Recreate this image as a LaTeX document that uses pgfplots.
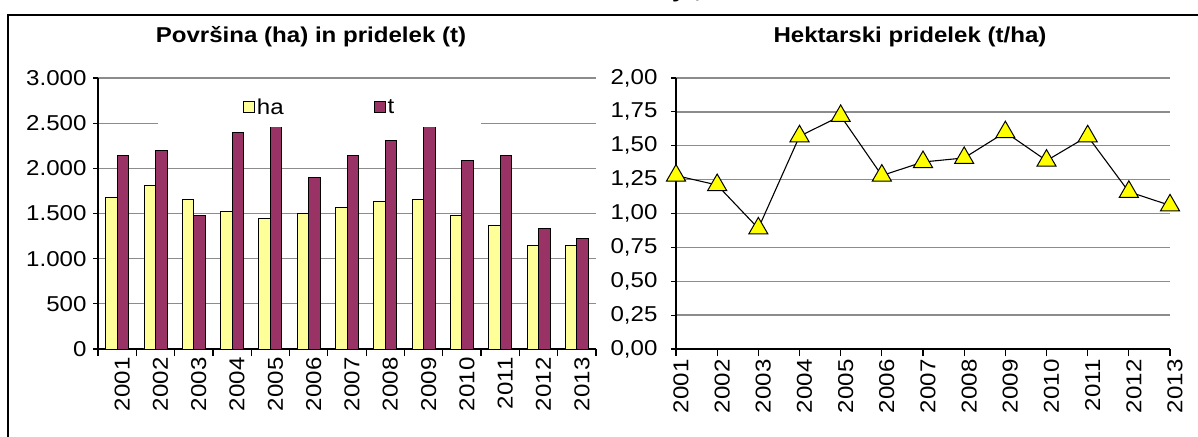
\documentclass[border=0pt]{standalone}
\usepackage{fontspec}
\setmainfont{Liberation Sans}[FakeStretch=1.12]
\usepackage{pgfplots}
\usepackage{pgfplotstable}
\pgfplotsset{compat=1.18}

\definecolor{haY}{HTML}{FFFF99}
\definecolor{tP}{HTML}{993366}
\definecolor{gridG}{HTML}{8C8C8C}
\definecolor{mkY}{HTML}{FFFF00}

% year, area (ha), production (t), yield (t/ha)
\pgfplotstableread{
x  ha    t     yld
0  1681  2146  1.28
1  1815  2194  1.21
2  1659  1481  0.89
3  1526  2394  1.57
4  1440  2480  1.72
5  1503  1904  1.28
6  1570  2146  1.38
7  1637  2305  1.41
8  1659  2650  1.60
9  1477  2086  1.39
10 1370  2146  1.57
11 1147  1329  1.16
12 1151  1221  1.06
}\data

\newcommand{\tf}{\fontsize{21.5}{24}\selectfont}

\pgfplotsset{
  common/.style={
    scale only axis,
    height=271pt,
    axis lines*=left,
    axis line style={black, line width=1.3pt},
    ymajorgrids,
    grid style={gridG, line width=1.3pt},
    extra y ticks={0},
    extra y tick style={grid=none},
    tick align=outside,
    major tick length=5pt,
    tick style={black, line width=1.2pt},
    ticklabel style={font=\tf},
    xticklabels={2001,2002,2003,2004,2005,2006,2007,2008,2009,2010,2011,2012,2013},
    xticklabel style={rotate=90, anchor=east, yshift=-5pt},
    /pgf/number format/assume math mode=true,
  },
}

\begin{document}
\begin{tikzpicture}[x=1pt,y=1pt]
\path[use as bounding box] (0,0) rectangle (1198,436);
\draw[line width=2pt] (8,-10) -- (8,421) -- (1210,421);
\node[anchor=base west, font=\bfseries\tf, inner sep=0pt] at (672,438) {y\hspace{9pt},};

\node[font=\bfseries\tf] at (311,399) {Površina (ha) in pridelek (t)};
\node[font=\bfseries\tf] at (910,399) {Hektarski pridelek (t/ha)};

\begin{axis}[common,
  at={(98pt,87pt)}, anchor=south west,
  width=498pt,
  xmin=-0.5, xmax=12.5,
  ymin=0, ymax=3000,
  ytick={500,1000,...,3000},
  yticklabel style={xshift=-3pt, /pgf/number format/.cd, fixed, 1000 sep={.}},
  xtick={0,...,12},
  major x tick style={draw=none},
  minor xtick={-0.5,0.5,...,12.5},
  minor tick length=7pt,
  minor x tick style={black, line width=1.2pt},
  ybar=0pt, bar width=11.5pt,
  legend image code/.code={\draw[#1] (0pt,-5.5pt) rectangle (11pt,5.5pt);},
  legend style={at={(0.12,0.819)}, anchor=south west, draw=none, fill=white,
    legend columns=2, font=\tf, inner xsep=85pt, inner ysep=9pt,
    /tikz/every even column/.append style={column sep=88pt}},
]
\addplot[draw=black, line width=0.9pt, fill=haY] table[x=x, y=ha] {\data};
\addplot[draw=black, line width=0.9pt, fill=tP] table[x=x, y=t] {\data};
\legend{ha, t}
\end{axis}

\begin{axis}[common,
  at={(676pt,87pt)}, anchor=south west,
  width=494pt,
  xmin=0, xmax=12,
  ymin=0, ymax=2,
  ytick={0.25,0.5,...,2},
  yticklabel style={xshift=-8pt, /pgf/number format/.cd, fixed, fixed zerofill, precision=2, use comma},
  xtick={0,...,12},
  major tick length=7pt,
  ytick style={/pgfplots/major tick length=5pt},
  clip=false,
]
\addplot[black, line width=1.1pt, mark=triangle*, mark size=11pt,
  mark options={fill=mkY, draw=black, line width=1pt}] table[x=x, y=yld] {\data};
\end{axis}
\end{tikzpicture}
\end{document}
